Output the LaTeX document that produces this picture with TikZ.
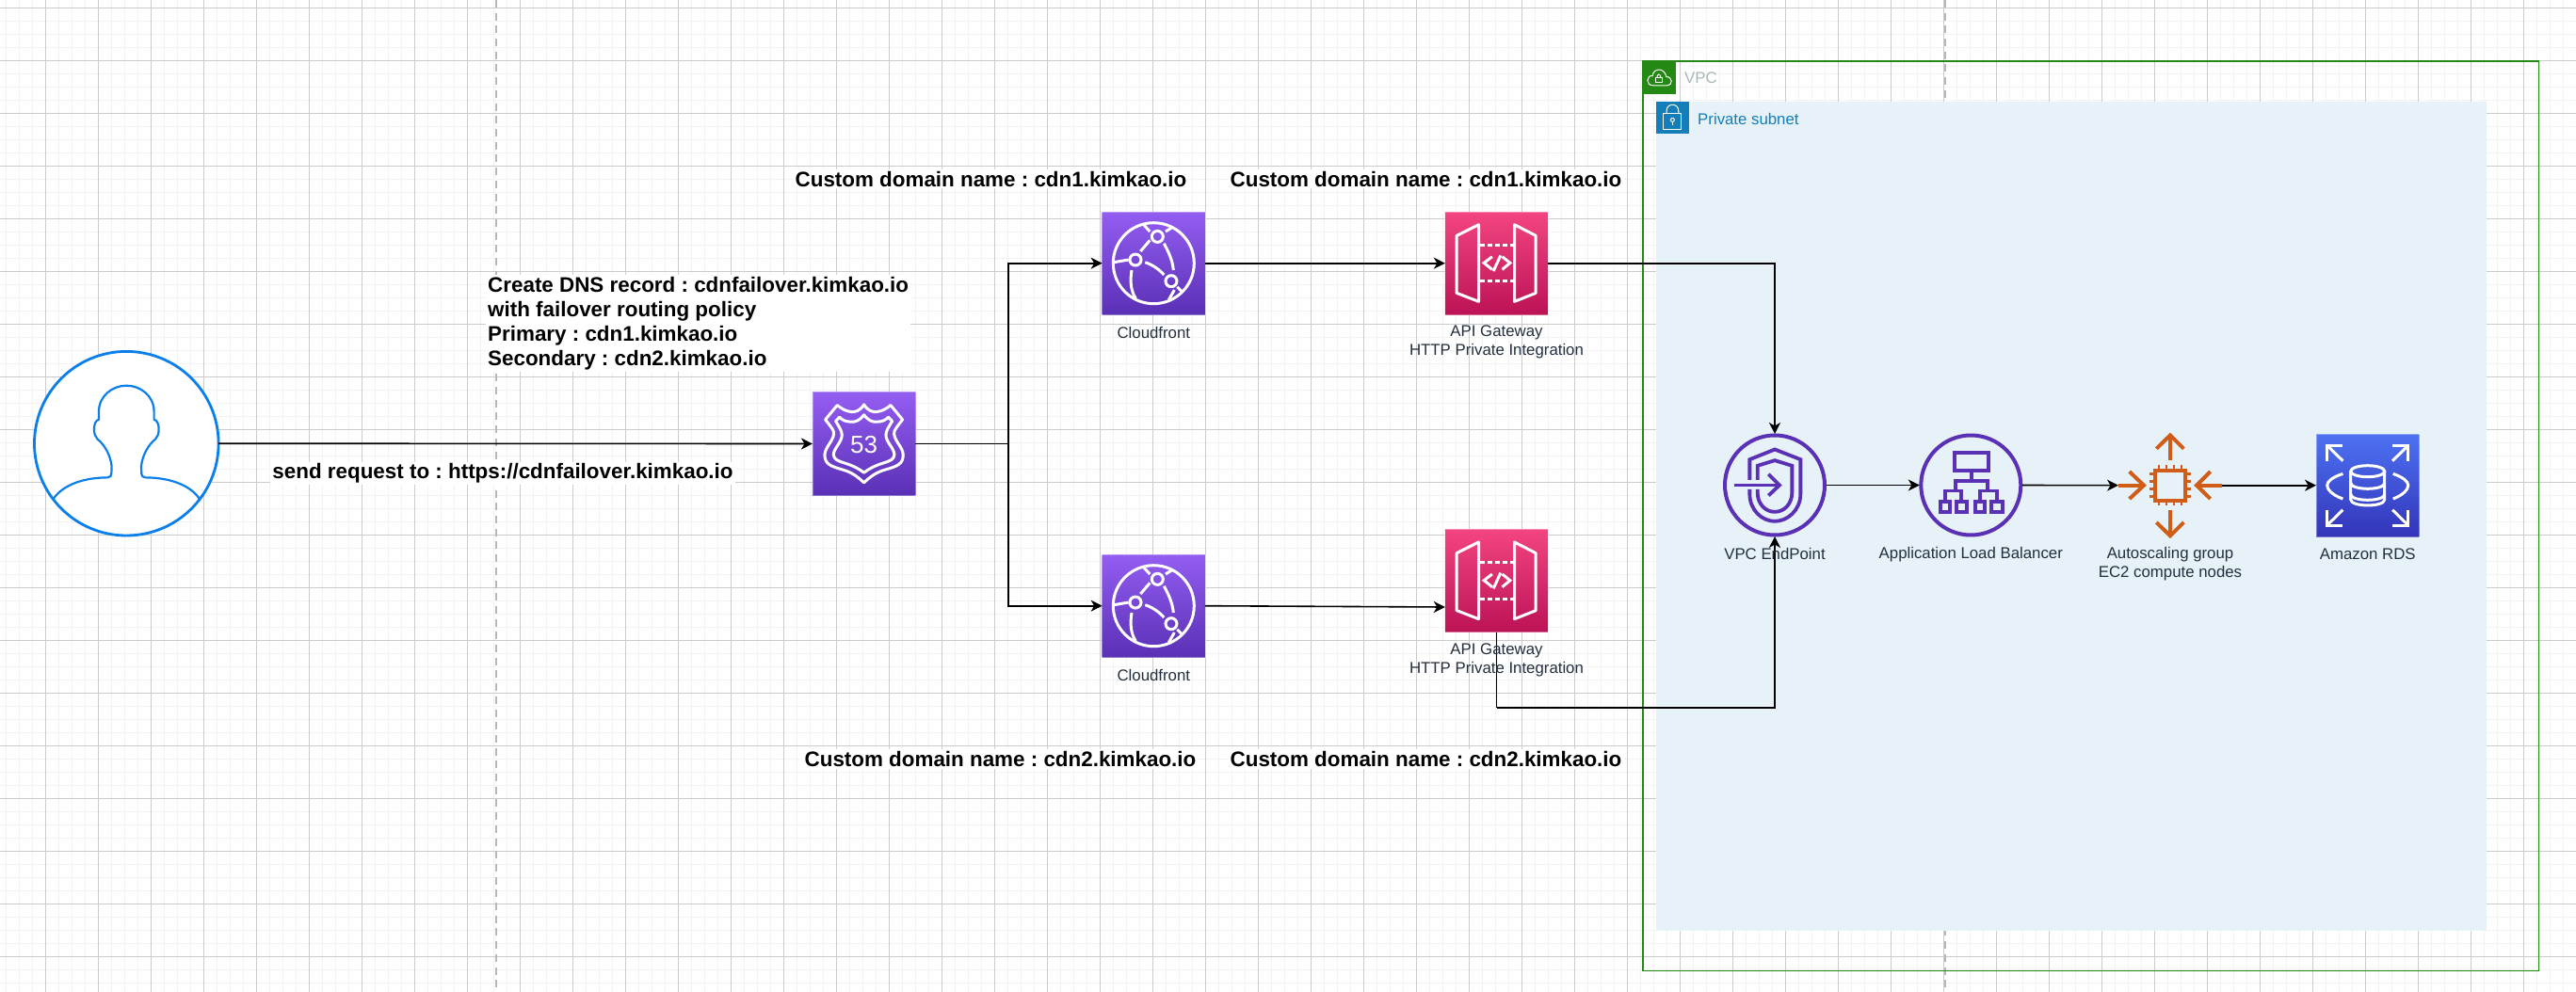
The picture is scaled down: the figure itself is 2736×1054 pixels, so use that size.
\documentclass[tikz,border=0pt]{standalone}
\usepackage{fontspec}
\setmainfont{Liberation Sans}
\usetikzlibrary{arrows.meta}
\definecolor{gridmajor}{HTML}{CBCBCB}
\definecolor{gridminor}{HTML}{F3F3F3}
\definecolor{inkcolor}{HTML}{232F3E}
\definecolor{vpcgreen}{HTML}{248814}
\definecolor{vpcgray}{HTML}{AAB7B8}
\definecolor{subnetblue}{HTML}{147EBA}
\definecolor{subnetfill}{HTML}{E6F2F8}
\definecolor{userblue}{HTML}{0A7EEB}
\definecolor{netpurple}{HTML}{5A30B5}
\definecolor{ecorange}{HTML}{D05C17}
\definecolor{purpletop}{HTML}{945DF2}
\definecolor{pinktop}{HTML}{F34482}
\definecolor{pinkbottom}{HTML}{BC1356}
\definecolor{bluetop}{HTML}{4D72F3}
\definecolor{bluebottom}{HTML}{3334B9}
\tikzset{
  flow/.style={line width=1.6pt,draw=black,-{Stealth[length=12pt,width=12pt,inset=3.5pt]}},
  plainflow/.style={line width=1.6pt,draw=black},
  awsbox/.style={minimum size=109.3pt,inner sep=0pt,outer sep=0pt,draw=white,draw opacity=.35,line width=.8pt},
  purplebox/.style={awsbox,top color=purpletop,bottom color=netpurple},
  pinkbox/.style={awsbox,top color=pinktop,bottom color=pinkbottom},
  bluebox/.style={awsbox,top color=bluetop,bottom color=bluebottom},
  ringnode/.style={circle,minimum size=106pt,inner sep=0pt,outer sep=1.5pt,draw=netpurple,line width=4pt},
  glyph/.style={draw=white,line width=3pt},
  netglyph/.style={draw=netpurple,line width=3.8pt},
  ecglyph/.style={draw=ecorange,line width=4pt},
  caption/.style={font=\fontsize{16.8}{20}\selectfont,text=inkcolor,align=center,inner sep=0pt},
  note/.style={font=\bfseries\fontsize{22.4}{26}\selectfont,fill=white,inner sep=2pt,align=left}
}
\newcommand{\cfglyph}[1]{%
  \begin{scope}[shift={(#1.center)},scale=1/3]
    \draw[glyph] (0,0) circle(129);
    \draw[glyph] (12,-85) circle(18);
    \draw[glyph] (-58,-11) circle(18);
    \draw[glyph] (56,57) circle(18);
    \draw[glyph] (-12,-73) -- (-42,-38);
    \draw[glyph] (-27,-3) .. controls (-3,5) and (18,20) .. (33,37);
    \draw[glyph] (33,-63) .. controls (48,-35) and (60,-10) .. (63,22);
    \draw[glyph] (-70,22) .. controls (-76,60) and (-72,90) .. (-57,112);
    \draw[glyph] (-127,-3) -- (-80,-11);
    \draw[glyph] (-32,-123) -- (-12,-101);
    \draw[glyph] (38,-101) -- (60,-115);
    \draw[glyph] (66,85) -- (48,117);
    \draw[glyph] (75,75) -- (90,90);
  \end{scope}}
\newcommand{\apiglyph}[1]{%
  \begin{scope}[shift={(#1.center)},scale=1/3]
    \draw[glyph,line join=round] (-57,-123) -- (-57,122) -- (-127,95) -- (-127,-88) -- cycle;
    \draw[glyph,line join=round] (57,-123) -- (57,122) -- (125,95) -- (125,-88) -- cycle;
    \draw[glyph,dash pattern=on 5pt off 3pt] (-52,-58) -- (52,-58);
    \draw[glyph,dash pattern=on 5pt off 3pt] (-52,57) -- (52,57);
    \draw[glyph] (-14,-21) -- (-40,-1) -- (-14,20);
    \draw[glyph] (18,-21) -- (43,-1) -- (18,20);
    \draw[glyph] (13,-25) -- (-10,25);
  \end{scope}}
\begin{document}
\frenchspacing
\begin{tikzpicture}[x=1pt,y=-1pt]
  \useasboundingbox (0,0) rectangle (2736,1054);
  \fill[white] (0,0) rectangle (2736,1054);
  \foreach \gx in {6.6,20.6,...,2736} \draw[gridminor,line width=1.5pt] (\gx,0) -- (\gx,1054);
  \foreach \gy in {8.3,22.3,...,1054} \draw[gridminor,line width=1.5pt] (0,\gy) -- (2736,\gy);
  \foreach \gx in {48.6,104.6,...,2736} \draw[gridmajor,line width=1pt] (\gx,0) -- (\gx,1054);
  \foreach \gy in {8.3,64.3,...,1054} \draw[gridmajor,line width=1pt] (0,\gy) -- (2736,\gy);
  \draw[gridmajor!90!black,line width=1.5pt,dash pattern=on 8pt off 5.7pt] (527,0) -- (527,1054);
  \draw[gridmajor!90!black,line width=1.5pt,dash pattern=on 8pt off 5.7pt] (2066,0) -- (2066,1054);

  \fill[subnetfill] (1759,107.7) rectangle (2640.7,989.3);
  \draw[vpcgreen,line width=1.5pt] (1745,65) rectangle (2696.7,1031.3);
  \fill[vpcgreen] (1745,65) rectangle (1780,100);
  \begin{scope}[shift={(1762.5,82.5)},scale=1/3]
    \draw[white,line width=1pt] (-20,25) .. controls (-45,25) and (-42,-8) .. (-22,-6) .. controls (-20,-30) and (15,-35) .. (22,-3) .. controls (42,-3) and (45,25) .. (22,25) -- cycle;
    \draw[white,line width=1pt] (-12,1) rectangle (8,16);
    \draw[white,line width=1pt] (-8,1) .. controls (-8,-14) and (4,-14) .. (4,1);
  \end{scope}
  \node[font=\fontsize{16.8}{20}\selectfont,text=vpcgray,anchor=west,inner sep=0pt] (vpctext) at (1789,83) {VPC};
  \fill[subnetblue] (1759,107.7) rectangle (1793.7,142.5);
  \begin{scope}[shift={(1776.4,125.1)},scale=1/3]
    \draw[white,line width=1pt] (-29,-15) rectangle (28,37);
    \draw[white,line width=1pt] (-19,-15) -- (-19,-22) .. controls (-19,-48) and (19,-48) .. (19,-22) -- (19,-15);
    \draw[white,line width=1pt] (0,7) circle(6);
    \draw[white,line width=1pt] (0,13) -- (0,25);
  \end{scope}
  \node[font=\fontsize{16.8}{20}\selectfont,text=subnetblue,anchor=west,inner sep=0pt] (subnettext) at (1803,126) {Private subnet};

  \node[circle,minimum size=195.6pt,inner sep=0pt,outer sep=0pt,fill=white,draw=userblue,line width=2.8pt] (user) at (134.3,471.2) {};
  \begin{scope}[shift={(134.3,470.7)},scale=1/3]
    \draw[userblue,line width=2.2pt] (-233,178) .. controls (-200,130) and (-130,110) .. (-60,110)
      .. controls (-52,110) and (-48,104) .. (-48,98) -- (-47,75) .. controls (-50,40) and (-70,5) .. (-92,-12)
      .. controls (-100,-20) and (-103,-30) .. (-103,-45) .. controls (-103,-60) and (-98,-72) .. (-88,-75)
      -- (-88,-100) .. controls (-88,-150) and (-45,-183) .. (0,-183) .. controls (45,-183) and (88,-150) .. (88,-100)
      -- (88,-75) .. controls (98,-72) and (103,-60) .. (103,-45) .. controls (103,-30) and (100,-20) .. (92,-12)
      .. controls (70,5) and (50,40) .. (47,75) -- (48,98) .. controls (48,104) and (52,110) .. (60,110)
      .. controls (130,110) and (200,130) .. (233,178);
  \end{scope}

  \node[purplebox] (r53) at (917.6,471.5) {};
  \begin{scope}[shift={(r53.center)},scale=1/3]
    \draw[glyph,line join=round] (0,-125) .. controls (-12,-105) and (-28,-100) .. (-42,-102) .. controls (-58,-104) and (-72,-112) .. (-85,-123)
      -- (-123,-77) .. controls (-110,-60) and (-100,-48) .. (-97,-40) .. controls (-90,-15) and (-125,10) .. (-125,35)
      .. controls (-125,65) and (-105,72) .. (-70,82) .. controls (-40,90) and (-20,105) .. (0,124)
      .. controls (20,105) and (40,90) .. (70,82) .. controls (105,72) and (125,65) .. (125,35)
      .. controls (125,10) and (90,-15) .. (97,-40) .. controls (100,-48) and (110,-60) .. (123,-77)
      -- (85,-123) .. controls (72,-112) and (58,-104) .. (42,-102) .. controls (28,-100) and (12,-105) .. (0,-125) -- cycle;
    \draw[glyph,line join=round] (0,-92) .. controls (-12,-75) and (-28,-68) .. (-42,-70) .. controls (-58,-70) and (-70,-76) .. (-78,-85)
      -- (-90,-72) .. controls (-80,-55) and (-70,-42) .. (-70,-28) .. controls (-70,-5) and (-97,15) .. (-97,35)
      .. controls (-95,50) and (-85,54) .. (-60,62) .. controls (-35,70) and (-15,80) .. (0,92)
      .. controls (15,80) and (35,70) .. (60,62) .. controls (85,54) and (95,50) .. (97,35)
      .. controls (97,15) and (70,-5) .. (70,-28) .. controls (70,-42) and (80,-55) .. (90,-72)
      -- (78,-85) .. controls (70,-76) and (58,-70) .. (42,-70) .. controls (28,-68) and (12,-75) .. (0,-92) -- cycle;
    \node[font=\fontsize{26}{28}\selectfont,text=white,inner sep=0pt] (r53text) at (0,3) {53};
  \end{scope}

  \node[purplebox] (cfA) at (1225.3,279.7) {};
  \node[purplebox] (cfB) at (1225.3,643.7) {};
  \node[pinkbox] (apiA) at (1589.5,279.7) {};
  \node[pinkbox] (apiB) at (1589.5,617) {};
  \cfglyph{cfA}
  \cfglyph{cfB}
  \apiglyph{apiA}
  \apiglyph{apiB}

  \node[ringnode] (ep) at (1885,515.5) {};
  \begin{scope}[shift={(ep.center)},scale=1/3]
    \draw[netglyph] (-80,-17) -- (-80,-82) -- (0,-114) -- (82,-82) -- (82,28) .. controls (82,80) and (40,115) .. (0,115) .. controls (-40,115) and (-80,80) .. (-80,28) -- (-80,13);
    \draw[netglyph] (-55,-17) -- (-55,-62) -- (0,-79) -- (55,-62) -- (55,23) .. controls (55,60) and (30,85) .. (0,85) .. controls (-30,85) and (-55,60) .. (-55,23) -- (-55,13);
    \draw[netglyph] (-130,0) -- (15,0);
    \draw[netglyph] (-20,-35) -- (15,0) -- (-20,33);
  \end{scope}

  \node[ringnode] (alb) at (2093.3,515.5) {};
  \begin{scope}[shift={(alb.center)},scale=1/3]
    \draw[netglyph] (-52,-104) rectangle (55,-47);
    \draw[netglyph] (1,-47) -- (1,-14);
    \draw[netglyph] (-50,18) -- (-50,-14) -- (53,-14) -- (53,18);
    \draw[netglyph] (-83,53) -- (-83,18) -- (-30,18) -- (-30,53);
    \draw[netglyph] (28,53) -- (28,18) -- (82,18) -- (82,53);
    \draw[netglyph] (-98,53) rectangle (-67,86);
    \draw[netglyph] (-46,53) rectangle (-13,86);
    \draw[netglyph] (13,53) rectangle (45,86);
    \draw[netglyph] (65,53) rectangle (100,86);
  \end{scope}

  \node[minimum width=110pt,minimum height=110pt,inner sep=0pt,outer sep=0pt] (asg) at (2305,515.7) {};
  \begin{scope}[shift={(asg.center)},scale=1/3]
    \draw[ecglyph] (-48,-48) rectangle (48,48);
    \foreach \pin in {-36,-12,12,36} {
      \draw[ecorange,line width=2.8pt] (\pin,-65) -- (\pin,-50);
      \draw[ecorange,line width=2.8pt] (\pin,50) -- (\pin,65);
      \draw[ecorange,line width=2.8pt] (-65,\pin) -- (-50,\pin);
      \draw[ecorange,line width=2.8pt] (50,\pin) -- (65,\pin);
    }
    \draw[ecglyph] (0,-79) -- (0,-160);
    \draw[ecglyph] (-44,-117) -- (0,-160) -- (43,-117);
    \draw[ecglyph] (0,80) -- (0,161);
    \draw[ecglyph] (-44,118) -- (0,161) -- (43,118);
    \draw[ecglyph] (-165,0) -- (-84,0);
    \draw[ecglyph] (-130,-44) -- (-84,0) -- (-130,43);
    \draw[ecglyph] (165,0) -- (84,0);
    \draw[ecglyph] (128,-44) -- (84,0) -- (128,43);
  \end{scope}

  \node[bluebox] (rds) at (2514.7,515.7) {};
  \begin{scope}[shift={(rds.center)},scale=1/3]
    \draw[glyph] (0,-45) ellipse(54 and 18);
    \draw[glyph] (-54,-45) -- (-54,45) .. controls (-54,70) and (54,70) .. (54,45) -- (54,-45);
    \draw[glyph] (-54,-8) .. controls (-54,17) and (54,17) .. (54,-8);
    \draw[glyph] (-54,28) .. controls (-54,53) and (54,53) .. (54,28);
    \draw[glyph] (-79,-37) .. controls (-115,-25) and (-129,-12) .. (-129,0) .. controls (-129,12) and (-115,30) .. (-79,43);
    \draw[glyph] (81,-37) .. controls (115,-25) and (129,-12) .. (129,0) .. controls (129,12) and (115,30) .. (81,43);
    \foreach \sx/\sy in {-1/-1,1/-1,-1/1,1/1} {
      \draw[glyph,line join=miter] (\sx*79,\sy*127) -- (\sx*129,\sy*127) -- (\sx*129,\sy*78);
      \draw[glyph] (\sx*129,\sy*127) -- (\sx*79,\sy*78);
    }
  \end{scope}

  \coordinate (split) at (1071.2,471.5);
  \coordinate (apiBin) at (1534.8,645);
  \coordinate (under) at (1589.5,751.7);
  \draw[flow] (user.east) -- (r53.west);
  \draw[plainflow] (r53.east) -- (split);
  \draw[flow] (split) |- (cfA.west);
  \draw[flow] (split) |- (cfB.west);
  \draw[flow] (cfA.east) -- (apiA.west);
  \draw[flow] (cfB.east) -- (apiBin);
  \draw[flow] (apiA.east) -| (ep.north);
  \draw[plainflow] (apiB.south) -- (under);
  \draw[flow] (under) -| (ep.south);
  \draw[flow] (ep.east) -- (alb.west);
  \draw[flow] (alb.east) -- (asg.west);
  \draw[flow] (asg.east) -- (rds.west);

  \node[caption] (cfAtext) at (1225.3,353) {Cloudfront};
  \node[caption] (cfBtext) at (1225.3,717) {Cloudfront};
  \node[caption] (apiAtext) at (1589.5,363) {API Gateway\\HTTP Private Integration};
  \node[caption] (apiBtext) at (1589.5,701) {API Gateway\\HTTP Private Integration};
  \node[caption] (eptext) at (1885,588) {VPC EndPoint};
  \node[caption] (albtext) at (2093.3,589) {Application Load Balancer};
  \node[caption] (asgtext) at (2305,599) {Autoscaling group\\EC2 compute nodes};
  \node[caption] (rdstext) at (2514.7,588.5) {Amazon RDS};

  \node[note,anchor=west] (dnstext) at (516,343.5) {Create DNS record : cdnfailover.kimkao.io\\with failover routing policy\\Primary : cdn1.kimkao.io\\Secondary : cdn2.kimkao.io};
  \node[note] (sendtext) at (534,503) {send request to : https://cdnfailover.kimkao.io};
  \node[note] (domainA) at (1052.5,190) {Custom domain name : cdn1.kimkao.io};
  \node[note] (domainB) at (1514.5,190) {Custom domain name : cdn1.kimkao.io};
  \node[note] (domainC) at (1062.5,806.5) {Custom domain name : cdn2.kimkao.io};
  \node[note] (domainD) at (1514.5,806.5) {Custom domain name : cdn2.kimkao.io};
\end{tikzpicture}
\end{document}
